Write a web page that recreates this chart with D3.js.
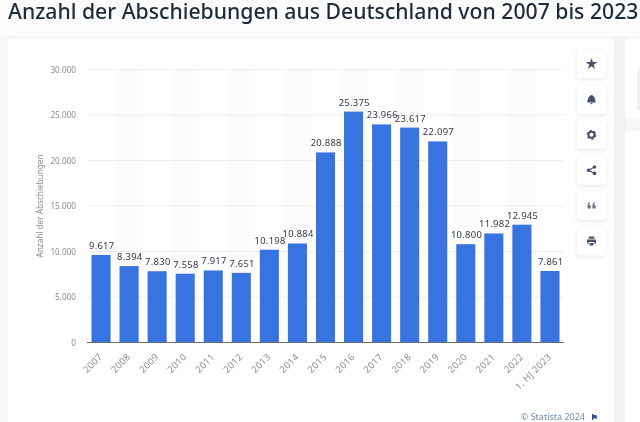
<!DOCTYPE html>
<html>
<head>
<meta charset="utf-8">
<script src="https://cdn.jsdelivr.net/npm/d3@7"></script>
<style>
  html, body { margin: 0; padding: 0; background: #f6f7f9; overflow: hidden; }
  svg { display: block; filter: blur(0.35px); }
  text { font-family: "Noto Sans", sans-serif; }
  .tick line, .domain { display: none; }
</style>
</head>
<body>
<svg id="chart" width="640" height="422"></svg>
<script>
// Data
const years = ["2007", "2008", "2009", "2010", "2011", "2012", "2013", "2014", "2015",
  "2016", "2017", "2018", "2019", "2020", "2021", "2022", "1. HJ 2023"];
const deportations = [9617, 8394, 7830, 7558, 7917, 7651, 10198, 10884, 20888,
  25375, 23966, 23617, 22097, 10800, 11982, 12945, 7861];
const yTicks = [0, 5000, 10000, 15000, 20000, 25000, 30000];
const buttons = ["star", "bell", "gear", "share", "cite", "print"];

const svg = d3.select("#chart");
const fmt = d => String(d).replace(/\B(?=(\d{3})(?!\d))/g, ".");

// Page background + cards
svg.append("rect").attr("width", 640).attr("height", 36).attr("fill", "#fcfcfd");
svg.append("rect").attr("x", 614).attr("y", 36).attr("width", 11).attr("height", 386).attr("fill", "#f1f2f4");
svg.append("rect").attr("x", 8).attr("y", 39).attr("width", 606).attr("height", 400)
  .attr("rx", 4).attr("fill", "#fff");
svg.append("rect").attr("x", 625).attr("y", 39).attr("width", 30).attr("height", 79)
  .attr("rx", 4).attr("fill", "#fff");
svg.append("rect").attr("x", 637).attr("y", 68).attr("width", 20).attr("height", 43)
  .attr("rx", 3).attr("fill", "#f0f1f3");
svg.append("rect").attr("x", 625).attr("y", 131).attr("width", 30).attr("height", 300)
  .attr("rx", 4).attr("fill", "#fff");

svg.append("text")
  .attr("x", 8).attr("y", 19)
  .attr("font-size", 21.2).attr("font-weight", 500).attr("fill", "#1f2a3a")
  .text("Anzahl der Abschiebungen aus Deutschland von 2007 bis 2023");

// Scales
const x = d3.scaleBand().domain(years).range([87, 564]).paddingInner(0.32).paddingOuter(0.16);
const y = d3.scaleLinear().domain([0, 30000]).range([342.5, 69.5]);
const band = d3.scaleBand().domain(years).range([87, 564]);

// Alternating stripes
svg.append("g").selectAll("rect")
  .data(years.filter((d, i) => i % 2 === 1))
  .join("rect")
    .attr("x", d => band(d))
    .attr("y", y(30000))
    .attr("width", band.bandwidth())
    .attr("height", y(0) - y(30000))
    .attr("fill", "#fbfbfb");

// Grid lines
svg.append("g").selectAll("line")
  .data(yTicks.slice(1))
  .join("line")
    .attr("x1", 87).attr("x2", 564)
    .attr("y1", d => y(d)).attr("y2", d => y(d))
    .attr("stroke", "#eeeeee");

// Y axis
const yAxis = svg.append("g")
  .attr("transform", "translate(87,0)")
  .call(d3.axisLeft(y).tickValues(yTicks).tickFormat(fmt).tickSize(0).tickPadding(11));
yAxis.selectAll("text")
  .style("font-family", '"Noto Sans", sans-serif')
  .attr("font-size", 8.2).attr("fill", "#8c8c8c");

svg.append("text")
  .attr("transform", "translate(43,206) rotate(-90)")
  .attr("text-anchor", "middle")
  .attr("font-size", 8.2).attr("fill", "#8c8c8c")
  .text("Anzahl der Abschiebungen");

// Bars
svg.append("g").selectAll("rect")
  .data(years)
  .join("rect")
    .attr("x", d => x(d))
    .attr("y", (d, i) => y(deportations[i]))
    .attr("width", x.bandwidth())
    .attr("height", (d, i) => y(0) - y(deportations[i]))
    .attr("fill", "#3874e0");

// Value labels
svg.append("g").selectAll("text")
  .data(years)
  .join("text")
    .attr("x", d => x(d) + x.bandwidth() / 2 + 0.7)
    .attr("y", (d, i) => y(deportations[i]) - 6)
    .attr("text-anchor", "middle")
    .attr("font-size", 9.4).attr("fill", "#333a45")
    .style("letter-spacing", "0.3px")
    .text((d, i) => fmt(deportations[i]));

// Baseline
svg.append("line")
  .attr("x1", 87).attr("x2", 564)
  .attr("y1", y(0)).attr("y2", y(0))
  .attr("stroke", "#6b6b6b").attr("stroke-width", 1.2);

// X axis
const xAxis = svg.append("g")
  .attr("transform", `translate(0,${y(0)})`)
  .call(d3.axisBottom(band).tickSize(0));
xAxis.selectAll("text")
  .style("font-family", '"Noto Sans", sans-serif')
  .style("letter-spacing", "0.3px")
  .attr("font-size", 9.4).attr("fill", "#8c8c8c")
  .attr("text-anchor", "end")
  .attr("dy", 0)
  .attr("y", 0)
  .attr("transform", "translate(2,15) rotate(-45)");

// Footer
svg.append("text")
  .attr("x", 585).attr("y", 420)
  .attr("text-anchor", "end")
  .attr("font-size", 9).attr("fill", "#6f8cb0")
  .text("© Statista 2024");
svg.append("path").attr("d", "M592 414h1v6h-1zM593 414.500l5 1.500-2 1 2 1.500-5 0z").attr("fill", "#27508f");

// Side buttons
const iconColor = "#47536e";
const btn = svg.append("g").selectAll("g")
  .data(buttons)
  .join("g")
    .attr("transform", (d, i) => `translate(591.500,${64 + i * 35.4})`);
btn.append("rect")
  .attr("x", -14.500).attr("y", -14).attr("width", 29).attr("height", 28.500).attr("rx", 3)
  .attr("fill", "#fff")
  .style("filter", "drop-shadow(0 1px 2px rgba(40,50,70,0.12))");

const icons = {
  star: g => g.append("path").attr("d", d3.symbol(d3.symbolStar, 42)()).attr("fill", iconColor),
  bell: g => g.append("path").attr("d", "M-4.500 3C-3.500 1.500-4-3.500 0-4.500 4-3.500 3.500 1.500 4.500 3ZM-1.300 3.500h2.600L0 5Z").attr("fill", iconColor),
  gear: g => {
    g.append("circle").attr("r", 3).attr("fill", "none").attr("stroke", iconColor).attr("stroke-width", 2);
    g.append("circle").attr("r", 4.300).attr("fill", "none").attr("stroke", iconColor).attr("stroke-width", 1.200)
      .attr("stroke-dasharray", "2.250 2.250");
  },
  share: g => {
    g.append("path").attr("d", "M3-3.200-3 0 3 3.200").attr("fill", "none").attr("stroke", iconColor).attr("stroke-width", 1.100);
    [[3, -3.200], [-3, 0], [3, 3.200]].forEach(p =>
      g.append("circle").attr("cx", p[0]).attr("cy", p[1]).attr("r", 1.800).attr("fill", iconColor));
  },
  cite: g => g.append("path").attr("d", "M-4 0C-4-2-3-3-1.500-3.300V-2C-2.200-1.800-2.500-1.300-2.500-.6H-.7V2.800H-4ZM.9 0C.9-2 1.900-3 3.400-3.300V-2C2.700-1.800 2.400-1.300 2.400-.6H4.200V2.800H.9Z").attr("fill", "#6f7a8c"),
  print: g => g.append("path").attr("d", "M-2.800-4.500H2.800V-2.200H-2.800ZM-4.500-1.500H4.500V2.500H2.800V1H-2.800V2.500H-4.500ZM-2 2H2V4.500H-2Z").attr("fill", iconColor)
};
btn.each(function(d) { icons[d](d3.select(this)); });
</script>
</body>
</html>
